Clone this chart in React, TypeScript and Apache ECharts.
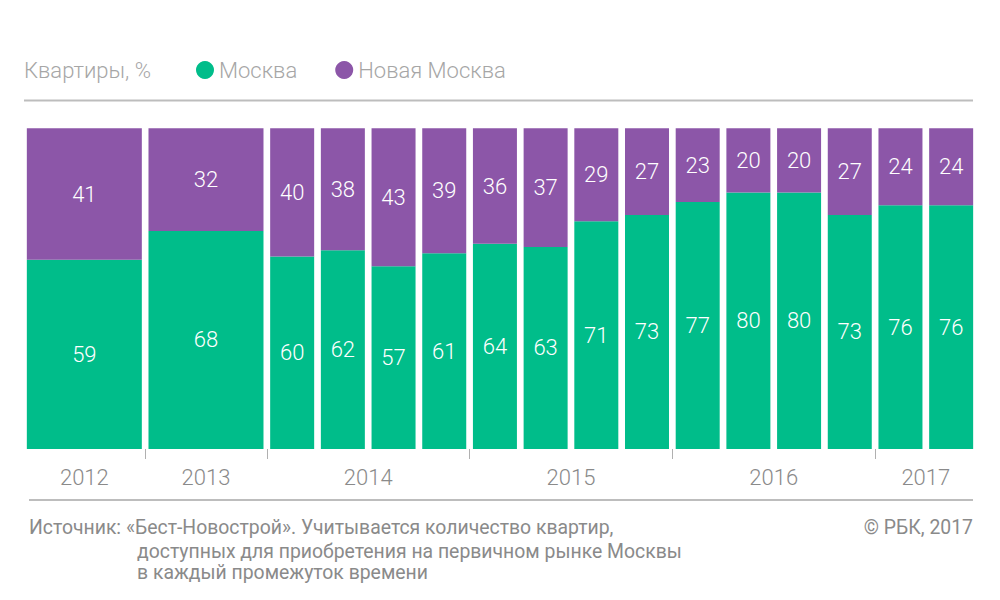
import React, { useEffect, useRef } from "react";
import * as echarts from "echarts";

// ---- Data ----
const annualCategories = ["2012", "2013"];
const quarterCategories = [
  "2014 I", "2014 II", "2014 III", "2014 IV",
  "2015 I", "2015 II", "2015 III", "2015 IV",
  "2016 I", "2016 II", "2016 III", "2016 IV",
  "2017 I", "2017 II",
];
const moscowAnnual = [59, 68];
const newMoscowAnnual = [41, 32];
const moscowQuarterly = [60, 62, 57, 61, 64, 63, 71, 73, 77, 80, 80, 73, 76, 76];
const newMoscowQuarterly = [40, 38, 43, 39, 36, 37, 29, 27, 23, 20, 20, 27, 24, 24];
const yearLabels = ["2012", "2013", "2014", "2015", "2016", "2017"];
const barsPerYear = [1, 1, 4, 4, 4, 2];
const seriesNames = ["Москва", "Новая Москва"];
const titleText = "Квартиры, %";
const footerLines = [
  "Источник: «Бест-Новострой». Учитывается количество квартир,",
  "доступных для приобретения на первичном рынке Москвы",
  "в каждый промежуток времени",
];
const copyrightText = "© РБК, 2017";

// ---- Layout ----
const GREEN = "#00bd8a";
const PURPLE = "#8c56a8";
const FONT = "Roboto";
const PLOT_LEFT = 23.5;
const PLOT_RIGHT = 976.5;
const PLOT_TOP = 128.3;
const PLOT_BOTTOM = 449;
const ANNUAL_SLOT = 2.4; // width of an annual bar slot, in quarter slots

const yearSpans = yearLabels.map((_, i) => (i < annualCategories.length ? ANNUAL_SLOT : barsPerYear[i]));
const totalUnits = yearSpans.reduce((a, b) => a + b, 0);
const unitPx = (PLOT_RIGHT - PLOT_LEFT) / totalUnits;
const annualUnits = yearSpans.slice(0, annualCategories.length).reduce((a, b) => a + b, 0);
const boundaries: number[] = [];
const centers: number[] = [];
{
  let acc = 0;
  yearSpans.forEach((s, i) => {
    centers.push(acc + s / 2);
    acc += s;
    if (i < yearSpans.length - 1) boundaries.push(acc);
  });
}

export default function App() {
  const ref = useRef<HTMLDivElement>(null);
  useEffect(() => {
    const chart = echarts.init(ref.current!, undefined, { renderer: "svg" });
    const grid1Width = annualUnits * unitPx;
    const bottomPad = 600 - PLOT_BOTTOM;
    const labelStyle = {
      show: true,
      position: "inside" as const,
      color: "#ffffff",
      fontSize: 22,
      fontFamily: FONT,
      fontWeight: 300 as const,
    };
    const footerStyle = { fontSize: 19.4, fill: "#8a8a8a", fontFamily: FONT, fontWeight: 400, verticalAlign: "middle" };
    const hiddenX = { show: false };
    const option: any = {
      animation: false,
      backgroundColor: "#ffffff",
      textStyle: { fontFamily: FONT },
      legend: {
        left: 196,
        top: 59,
        padding: 0,
        icon: "circle",
        itemWidth: 18,
        itemHeight: 18,
        itemGap: 38,
        data: seriesNames,
        textStyle: { fontSize: 22, color: "#a6a6a6", fontFamily: FONT, fontWeight: 300 },
      },
      grid: [
        { left: PLOT_LEFT, width: grid1Width, top: PLOT_TOP, bottom: bottomPad },
        { left: PLOT_LEFT + grid1Width, right: 1000 - PLOT_RIGHT, top: PLOT_TOP, bottom: bottomPad },
        { left: PLOT_LEFT, right: 1000 - PLOT_RIGHT, top: PLOT_TOP, bottom: bottomPad },
      ],
      xAxis: [
        { type: "category", gridIndex: 0, data: annualCategories, ...hiddenX },
        { type: "category", gridIndex: 1, data: quarterCategories, ...hiddenX },
        {
          type: "value",
          gridIndex: 2,
          min: 0,
          max: totalUnits,
          offset: 8,
          axisLine: { show: false },
          splitLine: { show: false },
          axisTick: {
            show: true,
            length: 10,
            customValues: boundaries,
            lineStyle: { color: "#b0b0b0", width: 1 },
          },
          axisLabel: {
            show: true,
            customValues: centers,
            margin: 9,
            fontSize: 22,
            color: "#8a8a8a",
            fontFamily: FONT,
            fontWeight: 300,
            formatter: (v: number) => {
              let best = 0;
              centers.forEach((c, i) => {
                if (Math.abs(c - v) < Math.abs(centers[best] - v)) best = i;
              });
              return yearLabels[best];
            },
          },
        },
      ],
      yAxis: [0, 1, 2].map((g) => ({
        type: "value",
        gridIndex: g,
        min: 0,
        max: 100,
        show: false,
      })),
      series: [
        {
          name: seriesNames[0], type: "bar", xAxisIndex: 0, yAxisIndex: 0, stack: "a",
          barWidth: 115, data: moscowAnnual, itemStyle: { color: GREEN }, label: labelStyle,
        },
        {
          name: seriesNames[1], type: "bar", xAxisIndex: 0, yAxisIndex: 0, stack: "a",
          barWidth: 115, data: newMoscowAnnual, itemStyle: { color: PURPLE }, label: labelStyle,
        },
        {
          name: seriesNames[0], type: "bar", xAxisIndex: 1, yAxisIndex: 1, stack: "q",
          barWidth: 44, data: moscowQuarterly, itemStyle: { color: GREEN }, label: labelStyle,
        },
        {
          name: seriesNames[1], type: "bar", xAxisIndex: 1, yAxisIndex: 1, stack: "q",
          barWidth: 44, data: newMoscowQuarterly, itemStyle: { color: PURPLE }, label: labelStyle,
        },
      ],
      graphic: [
        {
          type: "text", x: 24, y: 70,
          style: { text: titleText, fontSize: 22, fill: "#a6a6a6", fontFamily: FONT, fontWeight: 300, verticalAlign: "middle" },
        },
        {
          type: "line", shape: { x1: 24, y1: 100.5, x2: 973, y2: 100.5 },
          style: { stroke: "#bdbdbd", lineWidth: 2 },
        },
        {
          type: "line", shape: { x1: 29, y1: 500, x2: 973, y2: 500 },
          style: { stroke: "#bdbdbd", lineWidth: 2 },
        },
        { type: "text", x: 29, y: 527, style: { text: footerLines[0], ...footerStyle } },
        { type: "text", x: 137, y: 551, style: { text: footerLines[1], ...footerStyle } },
        { type: "text", x: 137, y: 572, style: { text: footerLines[2], ...footerStyle } },
        { type: "text", x: 973, y: 527, style: { text: copyrightText, ...footerStyle, align: "right" } },
      ],
    };
    chart.setOption(option);
    return () => chart.dispose();
  }, []);
  return <div ref={ref} style={{ position: "absolute", left: 0, top: 0, width: 1000, height: 600 }} />;
}
